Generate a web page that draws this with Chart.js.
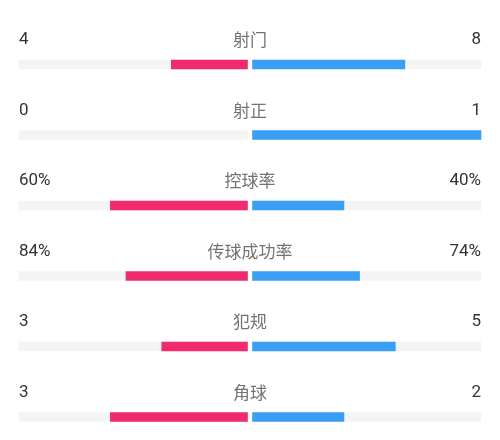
<!DOCTYPE html>
<html>
<head>
<meta charset="utf-8">
<script src="https://cdn.jsdelivr.net/npm/chart.js@4.4.1/dist/chart.umd.min.js"></script>
<style>
  html, body { margin: 0; padding: 0; background: #fff; }
  #wrap { width: 500px; height: 440px; position: relative; }
</style>
</head>
<body>
<div id="wrap"><canvas id="statsChart"></canvas></div>
<script>
// match stats, home on the left, away on the right
const categories = ['射门', '射正', '控球率', '传球成功率', '犯规', '角球'];
const homeValues = [4, 0, 60, 84, 3, 3];
const awayValues = [8, 1, 40, 74, 5, 2];
const isPercent = [false, false, true, true, false, false];

const HOME_COLOR = '#ef2a6e';
const AWAY_COLOR = '#3a9ff4';
const TRACK_COLOR = '#f4f4f5';
const GAP = 0.011; // half of the white gap in the middle, in axis units

// share of each side, used for the bar lengths
const homeShare = homeValues.map((v, i) => {
    const total = v + awayValues[i];
    return total ? v / total : 0;
});
const awayShare = awayValues.map((v, i) => {
    const total = homeValues[i] + v;
    return total ? v / total : 0;
});

const fmt = (v, i) => isPercent[i] ? v + '%' : String(v);

/**
 * Draws the value on each side and the stat name above each bar
 */
const rowLabels = {
    id: 'rowLabels',
    afterDatasetsDraw(chart) {
        const ctx = chart.ctx;
        const y = chart.scales.y;
        const area = chart.chartArea;
        const mid = (area.left + area.right) / 2;
        ctx.save();
        ctx.textBaseline = 'middle';
        categories.forEach((name, i) => {
            const ty = y.getPixelForValue(i) - 24.5;
            ctx.font = '17px Roboto, "Noto Sans CJK SC", sans-serif';
            ctx.fillStyle = '#333333';
            ctx.textAlign = 'left';
            ctx.fillText(fmt(homeValues[i], i), area.left, ty);
            ctx.textAlign = 'right';
            ctx.fillText(fmt(awayValues[i], i), area.right, ty);
            ctx.font = '17px "Noto Sans CJK SC", sans-serif';
            ctx.fillStyle = '#737373';
            ctx.textAlign = 'center';
            ctx.fillText(name, mid, ty);
        });
        ctx.restore();
    }
};

const barStyle = {
    barThickness: 9,
    borderWidth: 0,
    borderSkipped: false,
    clip: false
};

new Chart(document.getElementById('statsChart').getContext('2d'), {
    type: 'bar',
    data: {
        labels: categories,
        datasets: [
            Object.assign({
                label: 'trackLeft',
                data: categories.map(() => [-1, -GAP]),
                backgroundColor: TRACK_COLOR,
                order: 2
            }, barStyle),
            Object.assign({
                label: 'trackRight',
                data: categories.map(() => [GAP, 1]),
                backgroundColor: TRACK_COLOR,
                order: 2
            }, barStyle),
            Object.assign({
                label: 'home',
                data: homeShare.map(s => s ? [-GAP - s * (1 - GAP), -GAP] : null),
                backgroundColor: HOME_COLOR,
                order: 1
            }, barStyle),
            Object.assign({
                label: 'away',
                data: awayShare.map(s => s ? [GAP, GAP + s * (1 - GAP)] : null),
                backgroundColor: AWAY_COLOR,
                order: 1
            }, barStyle)
        ]
    },
    options: {
        indexAxis: 'y',
        responsive: true,
        maintainAspectRatio: false,
        animation: false,
        grouped: false,
        layout: {
            padding: { left: 19, right: 19, top: 64.5, bottom: 23 }
        },
        plugins: {
            legend: { display: false },
            tooltip: { enabled: false }
        },
        scales: {
            x: {
                display: false,
                min: -1,
                max: 1
            },
            y: {
                display: false,
                offset: false,
                grid: { display: false }
            }
        }
    },
    plugins: [rowLabels]
});
</script>
</body>
</html>
